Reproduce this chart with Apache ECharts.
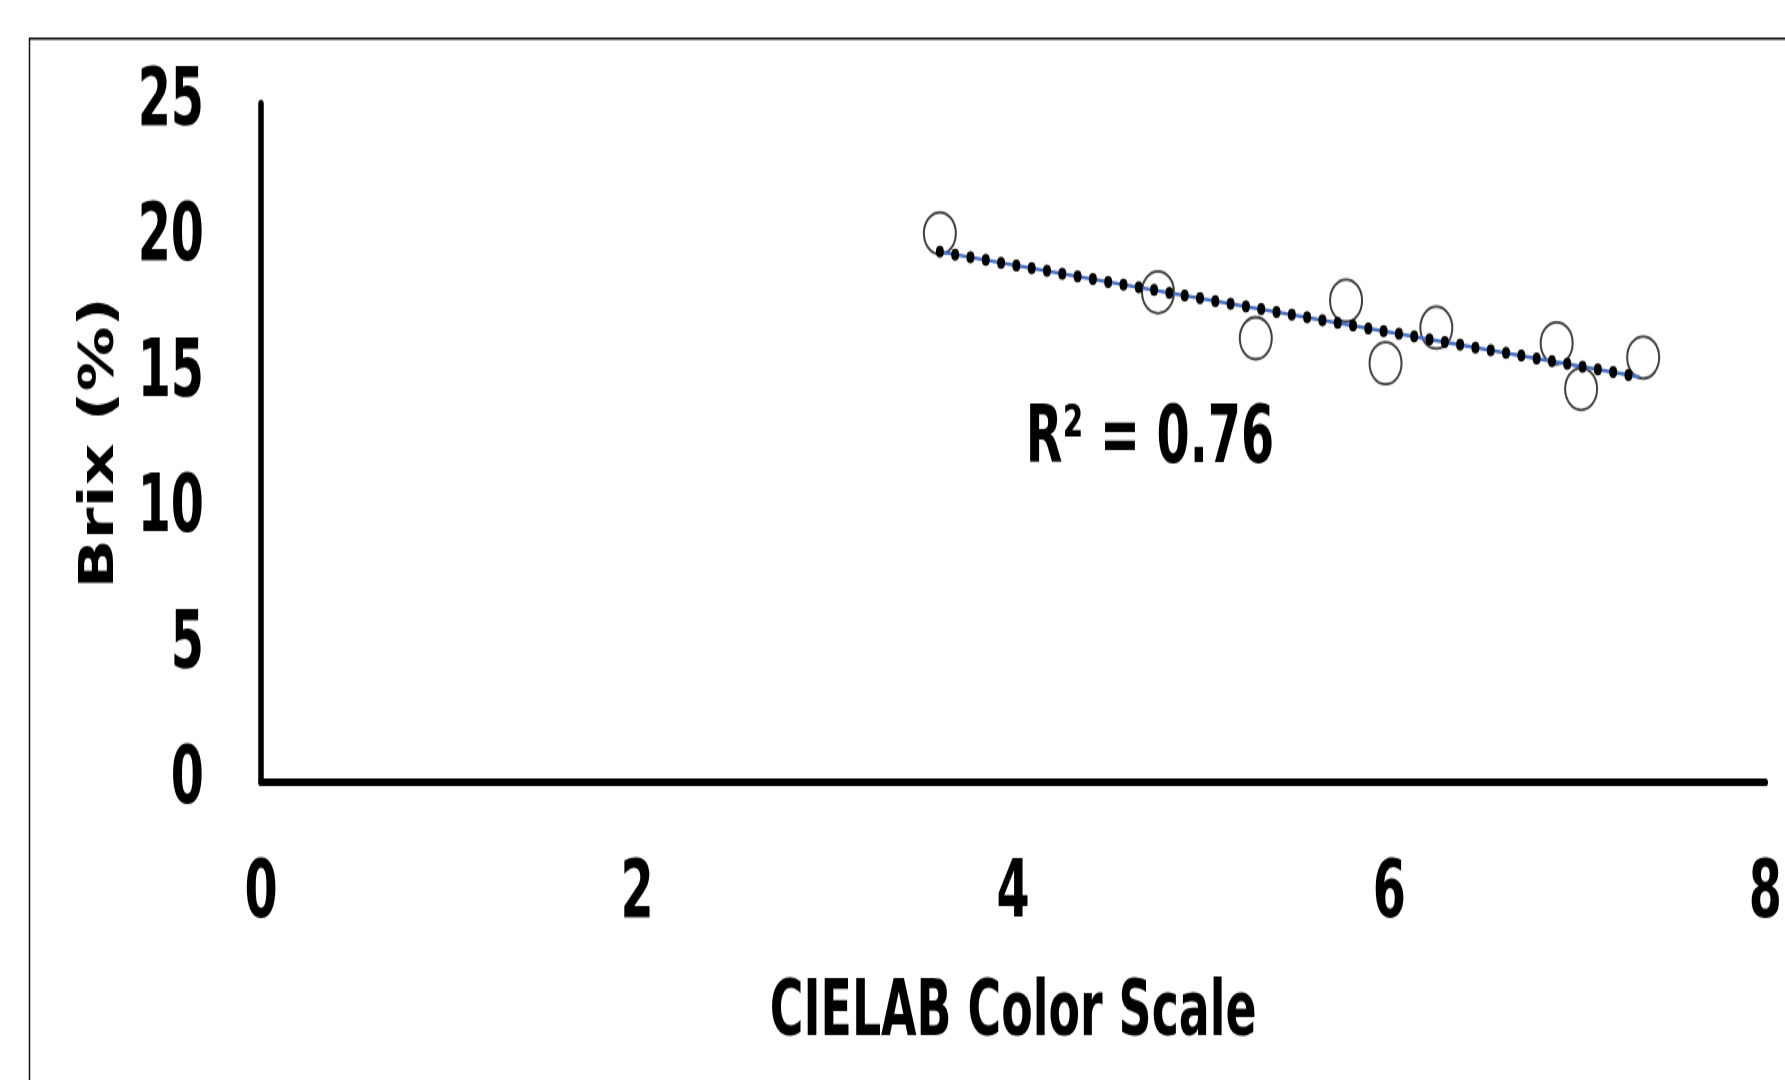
<!DOCTYPE html>
<html>
<head>
<meta charset="utf-8">
<script src="https://cdn.jsdelivr.net/npm/echarts@6/dist/echarts.min.js"></script>
<style>
html,body{margin:0;padding:0;background:#fff;}
#wrap{width:1785px;height:1080px;overflow:hidden;position:relative;background:#fff;}
#chart{width:1785px;height:720px;transform:scaleY(1.5);transform-origin:0 0;}
</style>
</head>
<body>
<div id="wrap"><div id="chart"></div></div>
<script>
// Data
const cielab = [3.61, 4.77, 5.29, 5.77, 5.98, 6.25, 6.89, 7.02, 7.35];
const brix   = [20.23, 18.06, 16.36, 17.75, 15.44, 16.75, 16.18, 14.49, 15.65];
const trendX = [3.61, 7.33];
const trendY = [19.55, 14.94];
const xTickValues = [0, 2, 4, 6, 8];
const yTickValues = [0, 5, 10, 15, 20, 25];
const xTitle = 'CIELAB Color Scale';
const yTitle = 'Brix (%)';
const r2Label = 'R² = 0.76';

const FONT = "'Liberation Sans Narrow', 'DejaVu Sans Condensed', 'Open Sans', sans-serif";
const points = cielab.map((x, i) => [x, brix[i]]);
const trend = trendX.map((x, i) => [x, trendY[i]]);

const chart = echarts.init(document.getElementById('chart'));
chart.setOption({
  backgroundColor: '#fff',
  animation: false,
  grid: { left: 261, right: 15, top: 69.3, bottom: 198.7, containLabel: false },
  xAxis: {
    type: 'value', min: xTickValues[0], max: xTickValues[xTickValues.length - 1], interval: 2,
    axisLine: { show: true, onZero: false, lineStyle: { color: '#000', width: 5.2 } },
    axisTick: { show: false }, splitLine: { show: false },
    axisLabel: { margin: 76, verticalAlign: 'middle', fontFamily: FONT, fontWeight: 'bold', fontSize: 53, color: '#000' },
    name: xTitle, nameLocation: 'middle', nameGap: 155,
    nameTextStyle: { fontFamily: FONT, fontWeight: 'bold', fontSize: 51, color: '#000', verticalAlign: 'middle' }
  },
  yAxis: {
    type: 'value', min: yTickValues[0], max: yTickValues[yTickValues.length - 1], interval: 5,
    axisLine: { show: true, onZero: false, lineStyle: { color: '#000', width: 5.5 } },
    axisTick: { show: false }, splitLine: { show: false },
    axisLabel: { margin: 57, fontFamily: FONT, fontWeight: 'bold', fontSize: 53, color: '#000' },
    name: yTitle, nameLocation: 'middle', nameGap: 160, nameRotate: 90,
    nameTextStyle: { fontFamily: FONT, fontWeight: 'bold', fontSize: 48, color: '#000', verticalAlign: 'middle' }
  },
  graphic: [
    { type: 'rect', left: 27, top: 23.3, silent: true,
      shape: { width: 2000, height: 2000 },
      style: { fill: 'none', stroke: '#111', lineWidth: 1.5 } },
    { type: 'text', x: 1150, y: 294, silent: true,
      style: { text: r2Label, fontFamily: FONT, fontWeight: 'bold', fontSize: 53, fill: '#000', align: 'center', verticalAlign: 'middle' } }
  ],
  series: [
    { type: 'scatter', data: points, symbol: 'circle', symbolSize: [32, 28], silent: true, z: 2,
      itemStyle: { color: 'rgba(0,0,0,0)', borderColor: '#111', borderWidth: 1.9 } },
    { type: 'line', data: trend, showSymbol: false, symbol: 'none', silent: true, z: 3,
      lineStyle: { color: '#4472C4', width: 2.4, type: 'solid' } },
    { type: 'line', data: trend, showSymbol: false, symbol: 'none', silent: true, z: 4,
      lineStyle: { color: '#000', width: 8, type: [0, 15.41], cap: 'round' } }
  ]
});
</script>
</body>
</html>
